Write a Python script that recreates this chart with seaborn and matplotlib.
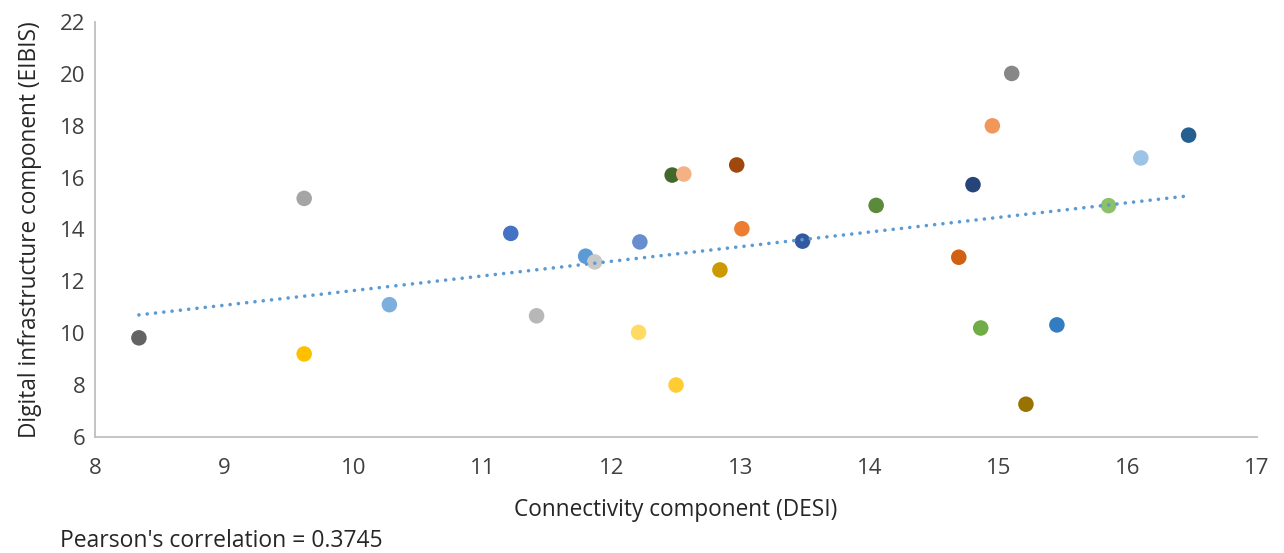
import matplotlib
matplotlib.use("Agg")
import matplotlib.pyplot as plt
import seaborn as sns
import pandas as pd

x_desi = [8.34, 9.62, 9.62, 10.28, 11.22, 11.42, 11.80, 11.87, 12.22, 12.21,
          12.47, 12.56, 12.50, 12.84, 12.97, 13.01, 13.48, 14.05, 14.69, 14.86,
          14.80, 14.95, 15.10, 15.21, 15.45, 15.85, 16.10, 16.47]
y_eibis = [9.82, 15.2, 9.2, 11.1, 13.85, 10.67, 12.97, 12.75, 13.52, 10.03,
           16.1, 16.14, 8.0, 12.44, 16.49, 14.03, 13.55, 14.93, 12.93, 10.2,
           15.73, 18.0, 20.02, 7.26, 10.32, 14.92, 16.76, 17.64]
point_colors = ["#636363", "#A5A5A5", "#FFC000", "#7CAFDD", "#4472C4", "#B7B7B7",
                "#5B9BD5", "#C9C9C9", "#698ED0", "#FFDA65", "#43682B", "#F4B183",
                "#FFCD33", "#CC9A00", "#9E480E", "#ED7D31", "#335AA1", "#5A8A3A",
                "#D26012", "#70AD47", "#264478", "#F1975A", "#878787", "#997300",
                "#327DC2", "#8CC168", "#9DC3E6", "#255E91"]
x_ticks = [8, 9, 10, 11, 12, 13, 14, 15, 16, 17]
y_ticks = [6, 8, 10, 12, 14, 16, 18, 20, 22]

sns.set_theme(style="white")
plt.rcParams['font.family'] = ['Open Sans', 'DejaVu Sans']

df = pd.DataFrame({"x": x_desi, "y": y_eibis, "id": [str(i) for i in range(len(x_desi))]})
pal = dict(zip(df["id"], point_colors))

fig = plt.figure(figsize=(12.84, 5.53), dpi=100)
ax = fig.add_axes([0.074, 0.21, 0.905, 0.75])

sns.scatterplot(data=df, x="x", y="y", hue="id", palette=pal, legend=False,
                s=125, linewidth=0, ax=ax, zorder=2)
sns.regplot(data=df, x="x", y="y", scatter=False, ci=None, ax=ax,
            line_kws=dict(color="#5B9BD5", lw=2.6, linestyle=(0, (0.01, 2.3)),
                          dash_capstyle="round", zorder=3))

ax.set_xlim(8, 17)
ax.set_ylim(6, 22)
ax.set_xticks(x_ticks)
ax.set_yticks(y_ticks)
ax.tick_params(axis="x", labelsize=16, length=0, pad=15)
ax.tick_params(axis="y", labelsize=16, length=0, pad=7)
for lab in ax.get_xticklabels() + ax.get_yticklabels():
    lab.set_color("#404040")
for side in ["top", "right"]:
    ax.spines[side].set_visible(False)
for side in ["left", "bottom"]:
    ax.spines[side].set_color("#BFBFBF")
    ax.spines[side].set_linewidth(1.3)
ax.set_xlabel("Connectivity component (DESI)", fontsize=16.3, color="#262626", labelpad=14)
ax.set_ylabel("Digital infrastructure component (EIBIS)", fontsize=16.3, color="#262626", labelpad=13)

fig.text(0.047, 0.022, "Pearson's correlation = 0.3745", fontsize=16.5, color="#262626",
         ha="left", va="center")

fig.savefig("out.png", dpi=100, facecolor="white")
